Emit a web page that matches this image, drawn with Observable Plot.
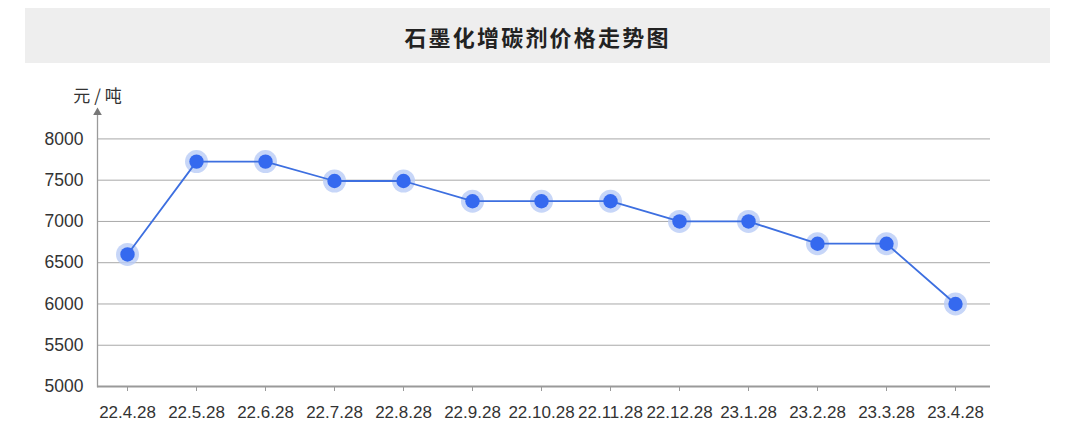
<!DOCTYPE html>
<html>
<head>
<meta charset="utf-8">
<script src="https://cdn.jsdelivr.net/npm/d3@7"></script>
<script src="https://cdn.jsdelivr.net/npm/@observablehq/plot@0.6"></script>
<style>
  html, body { margin: 0; padding: 0; background: #fff; }
  body { width: 1080px; height: 446px; overflow: hidden; }
  #title {
    position: absolute; left: 25px; top: 8px; width: 1025px; height: 55px;
    background: #eeeeee; color: #222;
    font-family: "Noto Sans CJK SC", sans-serif; font-weight: 700;
    font-size: 22px; letter-spacing: 2.2px;
    display: flex; align-items: center; justify-content: center;
  }
  #chart { position: absolute; left: 0; top: 63px; }
</style>
</head>
<body>
<div id="title">石墨化增碳剂价格走势图</div>
<div id="chart"></div>
<script>
const dates = ["22.4.28","22.5.28","22.6.28","22.7.28","22.8.28","22.9.28","22.10.28","22.11.28","22.12.28","23.1.28","23.2.28","23.3.28","23.4.28"];
const prices = [6600, 7725, 7725, 7490, 7490, 7245, 7245, 7245, 7000, 7000, 6730, 6730, 6000];
const yTicks = [5000, 5500, 6000, 6500, 7000, 7500, 8000];
const gridTicks = [5500, 6000, 6500, 7000, 7500, 8000];
const unitLabel = "元 / 吨";
const yAxisTop = 8320;

const data = dates.map((d, i) => ({date: d, price: prices[i]}));

const chart = Plot.plot({
  width: 1080,
  height: 383,
  marginLeft: 97,
  marginRight: 90,
  marginTop: 49,
  marginBottom: 60,
  style: {fontFamily: "'Liberation Sans', Arial, sans-serif", color: "#333", background: "transparent"},
  x: {type: "point", domain: dates, padding: 0, insetLeft: 30, insetRight: 35},
  y: {domain: [5000, yAxisTop]},
  marks: [
    Plot.ruleY(gridTicks, {stroke: "#a8a8a8", strokeWidth: 1}),
    Plot.ruleY([5000], {stroke: "#9a9a9a", strokeWidth: 2}),
    Plot.frame({anchor: "left", stroke: "#9a9a9a", strokeWidth: 1.3}),
    Plot.dot([yAxisTop], {y: d => d, frameAnchor: "left", symbol: "triangle", r: 3.2, fill: "#777", stroke: "none"}),
    Plot.text([unitLabel], {frameAnchor: "top-left", textAnchor: "middle", lineAnchor: "middle", dy: -16, fontSize: 17, fill: "#333", fontFamily: "'Noto Sans CJK SC', sans-serif"}),
    Plot.axisY({ticks: yTicks, tickSize: 0, tickPadding: 14, fontSize: 17.5, tickFormat: d => String(d), label: null, fill: "#333"}),
    Plot.axisX({tickSize: 5, tickPadding: 14, fontSize: 17, label: null, stroke: "#9a9a9a", fill: "#333", style: "letter-spacing:-0.45px"}),
    Plot.dot(data, {x: "date", y: "price", r: 11.5, fill: "#b9ccf6", fillOpacity: 0.8, stroke: "none"}),
    Plot.line(data, {x: "date", y: "price", stroke: "#3d6fe0", strokeWidth: 1.8}),
    Plot.dot(data, {x: "date", y: "price", r: 7.2, fill: "#3569ef", stroke: "none"})
  ]
});
document.getElementById("chart").appendChild(chart);
</script>
</body>
</html>
